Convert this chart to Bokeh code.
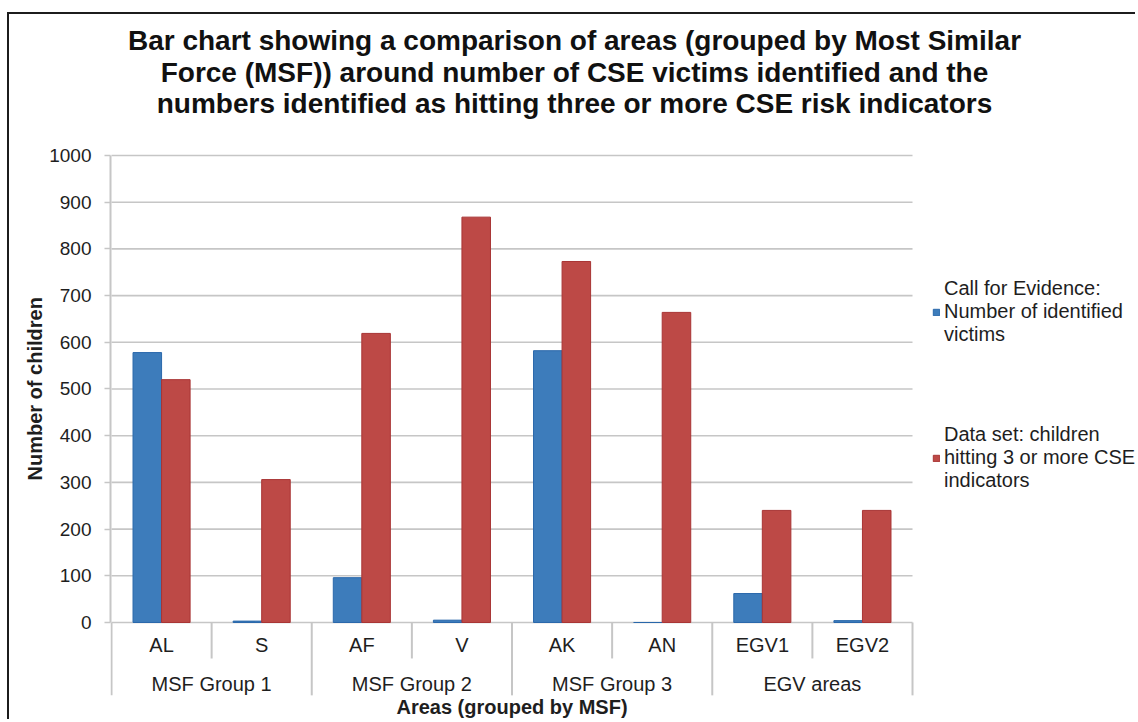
from bokeh.plotting import figure
from bokeh.models import (ColumnDataSource, Range1d, FixedTicker, Legend, LegendItem, Title)
from bokeh.core.properties import value
from bokeh.embed import file_html
from bokeh.resources import INLINE

# ---------------- data ----------------
groups = ["MSF Group 1", "MSF Group 1", "MSF Group 2", "MSF Group 2",
          "MSF Group 3", "MSF Group 3", "EGV areas", "EGV areas"]
areas = ["AL", "S", "AF", "V", "AK", "AN", "EGV1", "EGV2"]
victims = [578, 3, 96, 5, 582, 0, 62, 4]
indicators = [520, 306, 619, 868, 773, 664, 240, 240]
y_ticks = [0, 100, 200, 300, 400, 500, 600, 700, 800, 900, 1000]
series_names = ["Call for Evidence:\nNumber of identified\nvictims",
                "Data set: children\nhitting 3 or more CSE\nindicators"]
title_lines = ["Bar chart showing a comparison of areas (grouped by Most Similar",
               "Force (MSF)) around number of CSE victims identified and the",
               "numbers identified as hitting three or more CSE risk indicators"]
y_title = "Number of children"
x_title = "Areas (grouped by MSF)"

# ---------------- style ----------------
FONT = "Liberation Sans"
TXT = "#1e1e1e"
GRID = "#C6C6C6"
BLUE, BLUE_EDGE = "#3D7CBB", "#2A68AB"
RED, RED_EDGE = "#BD4946", "#A83434"
BAR_W = 0.285

n = len(areas)
centers = [i + 0.5 for i in range(n)]

# group centres and separators derived from the group membership
group_names = list(dict.fromkeys(groups))
group_centers = []
for g in group_names:
    idx = [i for i, gg in enumerate(groups) if gg == g]
    group_centers.append((idx[0] + idx[-1] + 1) / 2)
sep_x, sep_y1 = [], []
for i in range(0, n + 1):
    edge = i == 0 or i == n or groups[i] != groups[i - 1]
    sep_x.append(i)
    sep_y1.append(-156 if edge else -77)

p = figure(
    x_range=Range1d(-0.01, 10.247),
    y_range=Range1d(-212.0, 1301.9),
    width=1128, height=707,
    output_backend="svg", toolbar_location=None,
    x_axis_location=None,
    min_border_left=101, min_border_right=0,
    min_border_top=0, min_border_bottom=0,
    outline_line_color=None,
    background_fill_color="white", border_fill_color="white",
)
p.styles = {"margin-left": "7px", "margin-top": "12px",
            "border-left": "2px solid #1c1c1c", "border-top": "2px solid #1c1c1c"}

p.xgrid.visible = False
p.ygrid.visible = False

ticker = FixedTicker(ticks=y_ticks)
p.yaxis.ticker = ticker
p.yaxis.bounds = (y_ticks[0], y_ticks[-1])
p.yaxis.axis_line_color = GRID
p.yaxis.axis_line_width = 2
p.yaxis.major_tick_line_color = GRID
p.yaxis.major_tick_line_width = 1.6
p.yaxis.major_tick_out = 6
p.yaxis.major_tick_in = 0
p.yaxis.minor_tick_line_color = None
p.yaxis.major_label_standoff = 13
p.yaxis.major_label_text_font = FONT
p.yaxis.major_label_text_font_size = "19px"
p.yaxis.major_label_text_color = TXT

# y axis title, placed beside the value axis
p.add_layout(Title(text=y_title, align="left", offset=241, vertical_align="middle",
                   standoff=0, text_font=FONT, text_font_style="bold",
                   text_font_size="20px", text_color=TXT), "left")

# horizontal gridlines (value axis)
p.segment(x0=[0] * len(y_ticks), x1=[n] * len(y_ticks), y0=y_ticks, y1=y_ticks,
          line_color=GRID, line_width=1.6)

src = ColumnDataSource(dict(xc=centers, area=areas, victims=victims, indicators=indicators,
                            xb=[c - BAR_W / 2 for c in centers],
                            xr=[c + BAR_W / 2 for c in centers]))

r1 = p.vbar(x="xb", top="victims", width=BAR_W, source=src,
            fill_color=BLUE, line_color=BLUE_EDGE, line_width=1)
r2 = p.vbar(x="xr", top="indicators", width=BAR_W, source=src,
            fill_color=RED, line_color=RED_EDGE, line_width=1)

# category separators
p.segment(x0=sep_x, y0=[0] * len(sep_x), x1=sep_x, y1=sep_y1,
          line_color=GRID, line_width=2)

# category labels
p.text(x="xc", y=-49, text="area", source=src, text_align="center",
       text_baseline="middle", text_font=value(FONT), text_font_size="20px",
       text_color=TXT)
p.text(x=group_centers, y=[-131] * len(group_names), text=group_names,
       text_align="center", text_baseline="middle", text_font=value(FONT),
       text_font_size="20px", text_color=TXT)

# x axis title
p.text(x=[n / 2], y=[-181], text=[x_title], text_align="center",
       text_baseline="middle", text_font=value(FONT), text_font_style="bold",
       text_font_size="20px", text_color=TXT)

# chart title
p.text(x=[4.624] * 3, y=[1246, 1178, 1111], text=title_lines, text_align="center",
       text_baseline="middle", text_font=value(FONT), text_font_style="bold",
       text_font_size="28px", text_color="#111111")

legend = Legend(items=[LegendItem(label=series_names[0], renderers=[r1]),
                       LegendItem(label=series_names[1], renderers=[r2])],
                location=(822, 229), glyph_width=8, glyph_height=8,
                label_standoff=4, padding=0, spacing=77, margin=0,
                border_line_color=None, background_fill_alpha=0,
                label_text_font=FONT, label_text_font_size="20px",
                label_text_color=TXT, label_text_line_height=1.2)
p.add_layout(legend)

open("out.html", "w").write(file_html(p, INLINE))
